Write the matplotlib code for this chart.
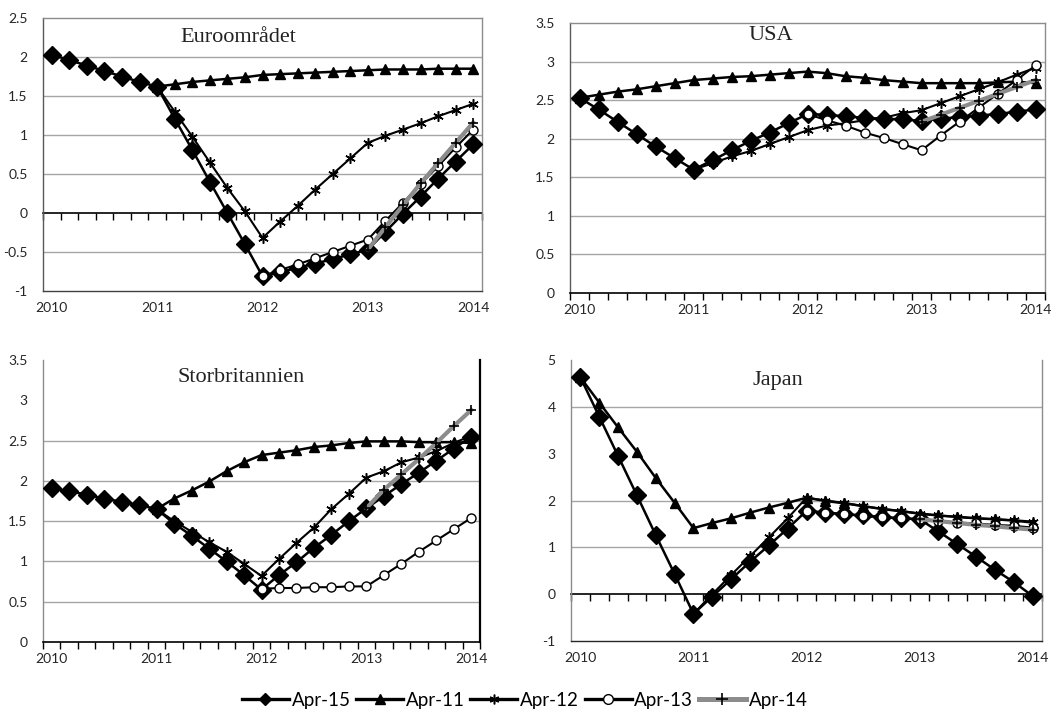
import numpy as np
import matplotlib
matplotlib.use("Agg")
import matplotlib.pyplot as plt
from matplotlib.lines import Line2D

nan = np.nan

# bimonthly observations/forecasts, 2010 to 2014
year_labels = ["2010", "2011", "2012", "2013", "2014"]
series_names = ["Apr-15", "Apr-11", "Apr-12", "Apr-13", "Apr-14"]

euro_apr15 = [2.03, 1.96, 1.89, 1.82, 1.75, 1.68, 1.62, 1.21, 0.81, 0.40, 0.00, -0.40, -0.81,
              -0.76, -0.70, -0.65, -0.59, -0.53, -0.47, -0.24, -0.01, 0.21, 0.44, 0.66, 0.88]
euro_apr11 = [nan] * 6 + [1.62, 1.65, 1.68, 1.70, 1.72, 1.74, 1.77, 1.78, 1.79, 1.80, 1.81, 1.82,
                          1.83, 1.84, 1.84, 1.84, 1.85, 1.85, 1.85]
euro_apr12 = [nan] * 6 + [1.62, 1.30, 0.98, 0.65, 0.32, 0.02, -0.32, -0.11, 0.09, 0.30, 0.50, 0.70,
                          0.90, 0.99, 1.07, 1.15, 1.24, 1.32, 1.40]
euro_apr13 = [nan] * 12 + [-0.81, -0.73, -0.66, -0.58, -0.50, -0.42, -0.34, -0.10, 0.13, 0.37,
                           0.60, 0.84, 1.07]
euro_apr14 = [nan] * 18 + [-0.47, -0.18, 0.10, 0.38, 0.64, 0.90, 1.16]

usa_apr15 = [2.53, 2.38, 2.22, 2.06, 1.90, 1.75, 1.60, 1.72, 1.85, 1.97, 2.08, 2.20, 2.32,
             2.31, 2.29, 2.27, 2.26, 2.25, 2.23, 2.26, 2.28, 2.30, 2.32, 2.35, 2.38]
usa_apr11 = [2.53, 2.57, 2.61, 2.64, 2.68, 2.72, 2.76, 2.78, 2.80, 2.81, 2.83, 2.85, 2.87,
             2.85, 2.81, 2.79, 2.76, 2.74, 2.72, 2.72, 2.72, 2.72, 2.73, 2.74, 2.72]
usa_apr12 = [nan] * 6 + [1.60, 1.68, 1.77, 1.84, 1.93, 2.02, 2.11, 2.17, 2.20, 2.24, 2.27, 2.33,
                         2.37, 2.46, 2.55, 2.64, 2.73, 2.83, 2.92]
usa_apr13 = [nan] * 12 + [2.32, 2.24, 2.17, 2.08, 2.01, 1.93, 1.85, 2.04, 2.22, 2.40, 2.58, 2.76, 2.95]
usa_apr14 = [nan] * 18 + [2.22, 2.31, 2.40, 2.49, 2.58, 2.67, 2.76]

uk_apr15 = [1.91, 1.87, 1.83, 1.78, 1.74, 1.70, 1.65, 1.47, 1.32, 1.16, 1.00, 0.83, 0.65,
            0.83, 0.99, 1.17, 1.33, 1.50, 1.66, 1.81, 1.96, 2.10, 2.25, 2.40, 2.55]
uk_apr11 = [nan] * 6 + [1.65, 1.78, 1.88, 1.99, 2.12, 2.23, 2.32, 2.35, 2.38, 2.42, 2.44, 2.47,
                        2.49, 2.49, 2.49, 2.48, 2.48, 2.48, 2.47]
uk_apr12 = [nan] * 6 + [1.65, 1.50, 1.37, 1.24, 1.12, 0.97, 0.82, 1.03, 1.23, 1.42, 1.65, 1.84,
                        2.04, 2.12, 2.23, 2.29, 2.37, 2.47, 2.56]
uk_apr13 = [nan] * 12 + [0.66, 0.67, 0.67, 0.68, 0.68, 0.69, 0.69, 0.83, 0.97, 1.12, 1.26, 1.40, 1.54]
uk_apr14 = [nan] * 18 + [1.66, 1.89, 2.08, 2.27, 2.47, 2.68, 2.88]

japan_apr15 = [4.63, 3.79, 2.95, 2.11, 1.26, 0.43, -0.42, -0.05, 0.32, 0.69, 1.04, 1.40, 1.78,
               1.74, 1.71, 1.68, 1.65, 1.62, 1.60, 1.34, 1.07, 0.80, 0.52, 0.26, -0.04]
japan_apr11 = [4.63, 4.09, 3.56, 3.04, 2.48, 1.95, 1.41, 1.52, 1.62, 1.74, 1.85, 1.95, 2.06,
               1.99, 1.94, 1.88, 1.82, 1.77, 1.72, 1.68, 1.65, 1.62, 1.60, 1.57, 1.53]
japan_apr12 = [nan] * 6 + [-0.42, 0.00, 0.41, 0.81, 1.21, 1.62, 2.06, 2.00, 1.95, 1.88, 1.82, 1.78,
                           1.72, 1.68, 1.65, 1.62, 1.60, 1.58, 1.55]
japan_apr13 = [nan] * 12 + [1.78, 1.74, 1.71, 1.67, 1.64, 1.62, 1.60, 1.56, 1.53, 1.51, 1.48, 1.46, 1.42]
japan_apr14 = [nan] * 18 + [1.60, 1.56, 1.52, 1.48, 1.45, 1.41, 1.38]

W, H = 1062, 721
TICK_FONT = "Lato"
TITLE_FONT = "Liberation Serif"

styles = {
    "Apr-15": dict(color="black", lw=1.8, marker="D", ms=9.5, mfc="black", mec="black", zorder=3),
    "Apr-11": dict(color="black", lw=1.8, marker="^", ms=6.5, mfc="black", mec="black", zorder=4),
    "Apr-12": dict(color="black", lw=1.5, marker=(6, 2, 0), ms=7.5, mec="black", mew=1.1, zorder=5),
    "Apr-13": dict(color="black", lw=1.5, marker="o", ms=6.5, mfc="white", mec="black", mew=1.0, zorder=6),
    "Apr-14": dict(color="#8c8c8c", lw=3, marker="+", ms=7, mec="black", mew=1.2, zorder=7),
}


def px_rect(left, top, right, bottom):
    return [left / W, 1 - bottom / H, (right - left) / W, (bottom - top) / H]


def draw_panel(ax, panel_series, ylim, yticks, grid_at, title, title_xy, zero_inside):
    n = len(panel_series[0])
    x = np.arange(n)
    for name, vals in zip(series_names, panel_series):
        ax.plot(x, vals, label=name, clip_on=False, **styles[name])

    ax.set_xlim(-0.5, n - 0.5)
    ax.set_ylim(*ylim)
    ax.set_yticks(yticks, labels=[f"{v:g}" for v in yticks])
    for g in grid_at:
        ax.axhline(g, color="#a6a6a6", lw=1.0, zorder=1)

    # year labels under the category centres, tick marks on category borders
    ax.set_xticks(x[::6], labels=year_labels)
    ax.tick_params(axis="x", which="major", length=0, pad=8)
    ax.tick_params(axis="y", length=0, pad=11)
    for lab in ax.get_xticklabels() + ax.get_yticklabels():
        lab.set_fontfamily(TICK_FONT)
        lab.set_fontsize(10)
        lab.set_color("#262626")

    borders = np.arange(-0.5, n, 1.0)
    if zero_inside:
        sec = ax.secondary_xaxis(0, transform=ax.transData)
        sec.set_xticks(borders, labels=[])
        sec.tick_params(length=5, width=1, color="black", direction="out")
        sec.spines["bottom"].set_color("black")
        sec.spines["bottom"].set_linewidth(1.2)
    else:
        ax.set_xticks(borders, minor=True)
        ax.tick_params(axis="x", which="minor", length=5, width=1, color="black", direction="out")

    for s in ax.spines.values():
        s.set_color("#8c8c8c")
        s.set_linewidth(1.0)

    fig.text(title_xy[0] / W, 1 - title_xy[1] / H, title, family=TITLE_FONT,
             fontsize=16, color="#222222", ha="center", va="center")


fig = plt.figure(figsize=(W / 100, H / 100), dpi=100)

ax_euro = fig.add_axes(px_rect(43, 18, 482, 291))
draw_panel(ax_euro, [euro_apr15, euro_apr11, euro_apr12, euro_apr13, euro_apr14],
           (-1, 2.5), [-1, -0.5, 0, 0.5, 1, 1.5, 2, 2.5], [-0.5, 0.5, 1, 1.5, 2],
           "Euroområdet", (238, 37), True)
ax_euro.spines["left"].set_color("#595959")
ax_euro.spines["bottom"].set_color("#404040")

ax_usa = fig.add_axes(px_rect(570, 23, 1045, 293))
draw_panel(ax_usa, [usa_apr15, usa_apr11, usa_apr12, usa_apr13, usa_apr14],
           (0, 3.5), [0, 0.5, 1, 1.5, 2, 2.5, 3, 3.5], [0.5, 1, 1.5, 2, 2.5, 3],
           "USA", (771, 35), False)
ax_usa.spines["bottom"].set_color("black")
ax_usa.spines["bottom"].set_linewidth(1.2)
ax_usa.spines["left"].set_color("#595959")

ax_uk = fig.add_axes(px_rect(43, 360, 480, 642))
draw_panel(ax_uk, [uk_apr15, uk_apr11, uk_apr12, uk_apr13, uk_apr14],
           (0, 3.5), [0, 0.5, 1, 1.5, 2, 2.5, 3, 3.5], [0.5, 1, 1.5, 2, 2.5],
           "Storbritannien", (241, 378), False)
ax_uk.spines["top"].set_visible(False)
ax_uk.spines["bottom"].set_color("black")
ax_uk.spines["bottom"].set_linewidth(1.2)
ax_uk.spines["right"].set_color("black")
ax_uk.spines["right"].set_linewidth(1.6)

ax_jp = fig.add_axes(px_rect(571, 360, 1042, 641))
draw_panel(ax_jp, [japan_apr15, japan_apr11, japan_apr12, japan_apr13, japan_apr14],
           (-1, 5), [-1, 0, 1, 2, 3, 4, 5], [1, 2, 4],
           "Japan", (778, 380), True)
ax_jp.spines["top"].set_visible(False)
ax_jp.spines["bottom"].set_color("#262626")

# legend keys: heavier lines, smaller markers than in the panels
legend_sizes = {"Apr-15": 6, "Apr-11": 6.5, "Apr-12": 7, "Apr-13": 7, "Apr-14": 8}
handles = []
for name in series_names:
    st = dict(styles[name])
    st.pop("zorder")
    st["ms"] = legend_sizes[name]
    if name != "Apr-14":
        st["lw"] = 2.4
    else:
        st["lw"] = 3.6
    handles.append(Line2D([], [], **st))
fig.legend(handles, series_names, loc="center", bbox_to_anchor=(0.494, 0.029), ncol=5,
           frameon=False, handlelength=2.5, handletextpad=0.15, columnspacing=0.3,
           prop={"family": "Lato", "size": 13.5})

fig.savefig("out.png", dpi=100)
